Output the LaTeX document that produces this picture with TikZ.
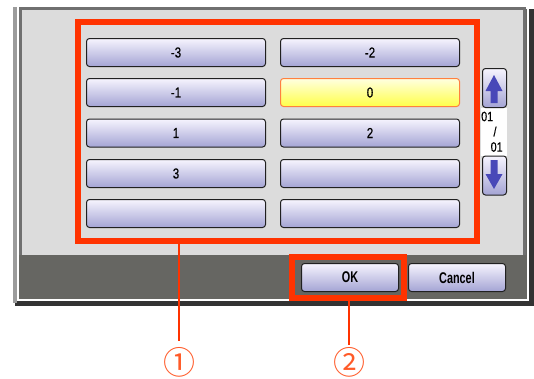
\documentclass[tikz,border=0pt]{standalone}
\usepackage{fontspec}
\setmainfont{Liberation Sans}
\newfontfamily\uifont[FakeStretch=0.8,FakeBold=0.5]{Liberation Sans}
\newfontfamily\uifontb[FakeStretch=0.7]{Liberation Sans}
\newfontfamily\cjk{Noto Sans CJK JP}
\definecolor{redline}{HTML}{FF3300}
\definecolor{circnum}{HTML}{FF5A28}
\definecolor{panel}{HTML}{DCDCDC}
\definecolor{body}{HTML}{666662}
\definecolor{shadow}{HTML}{333333}
\definecolor{edge}{HTML}{707070}
\definecolor{lbar}{HTML}{9C9C9C}
\definecolor{btntop}{HTML}{F6F4FE}
\definecolor{btnbot}{HTML}{A4A4D4}
\definecolor{btnline}{HTML}{202020}
\definecolor{yeltop}{HTML}{FFFFE0}
\definecolor{yelbot}{HTML}{FFFF48}
\definecolor{yelline}{HTML}{FF8040}
\definecolor{arrowblue}{HTML}{4848B8}
\begin{document}
\begin{tikzpicture}[x=1pt,y=-1pt,
  btn/.style={draw=btnline, line width=1pt, rounded corners=3pt,
    top color=btntop, bottom color=btnbot, inner sep=0pt, outer sep=0pt,
    minimum width=179pt, minimum height=28pt, text=black,
    font=\uifont\fontsize{14.5}{14.5}\selectfont},
  selbtn/.style={btn, draw=yelline, top color=yeltop, bottom color=yelbot},
  smallbtn/.style={btn, minimum width=97pt, font=\uifontb\bfseries\fontsize{15.5}{15.5}\selectfont},
  scrollbtn/.style={btn, minimum width=24pt, minimum height=39pt},
  redbox/.style={draw=redline, line width=6pt, inner sep=0pt, outer sep=0pt},
  conn/.style={draw=redline, line width=2pt},
  num/.style={text=circnum, font=\cjk\fontsize{32}{32}\selectfont, inner sep=0pt},
  pagetxt/.style={font=\uifont\fontsize{13.5}{13.5}\selectfont, inner sep=0pt}]
\useasboundingbox (0,0) rectangle (534,378);
% frame
\fill[shadow] (15,9) rectangle (534,306);
\fill[lbar] (13,7) rectangle (17,303);
\fill[white] (17,7) rectangle (529,301);
\fill[body] (19,9) rectangle (527,299);
\fill[panel] (22,10) rectangle (523,255);
\fill[edge] (19,7) rectangle (526,10);
\fill[edge] (19,10) rectangle (22,255);
\fill[edge] (523,10) rectangle (526,255);
\fill[white] (481,108) rectangle (507,156);
% value buttons
\node[btn] (m3) at (176,52.5) {-3};
\node[btn] (m2) at (370,52.5) {-2};
\node[btn] (m1) at (176,92.5) {-1};
\node[selbtn] (z0) at (370,92.5) {0};
\node[btn] (p1) at (176,133) {1};
\node[btn] (p2) at (370,133) {2};
\node[btn] (p3) at (176,173.5) {3};
\node[btn] (e1) at (370,173.5) {};
\node[btn] (e2) at (176,213.5) {};
\node[btn] (e3) at (370,213.5) {};
% scroll buttons
\node[scrollbtn] (up) at (494.5,88) {};
\node[scrollbtn] (down) at (494.5,175.5) {};
\fill[arrowblue] (494,75) -- (502.5,91) -- (497.5,91) -- (497.5,103) -- (490.5,103) -- (490.5,91) -- (485.5,91) -- cycle;
\fill[arrowblue] (494,189) -- (502.5,174) -- (497.5,174) -- (497.5,160) -- (490.5,160) -- (490.5,174) -- (485.5,174) -- cycle;
\node[pagetxt, anchor=west] (pg1) at (481,116.5) {01};
\node[pagetxt] (pgs) at (495,131.5) {/};
\node[pagetxt, anchor=west] (pg2) at (490.5,147) {01};
% OK / Cancel
\node[smallbtn] (ok) at (350,277.5) {OK};
\node[smallbtn] (cancel) at (457,277.5) {Cancel};
% highlight boxes
\node[redbox, minimum width=399pt, minimum height=219pt] (sel) at (277.5,131.5) {};
\node[redbox, minimum width=112pt, minimum height=41pt] (okbox) at (348,277.5) {};
% callouts
\node[num] (n1) at (179,362) {①};
\node[num] (n2) at (349,362) {②};
\coordinate (c1) at (179,341);
\coordinate (c2) at (349,345);
\draw[conn] (c1 |- sel.south) -- (c1);
\draw[conn] (c2 |- okbox.south) -- (c2);
\end{tikzpicture}
\end{document}
